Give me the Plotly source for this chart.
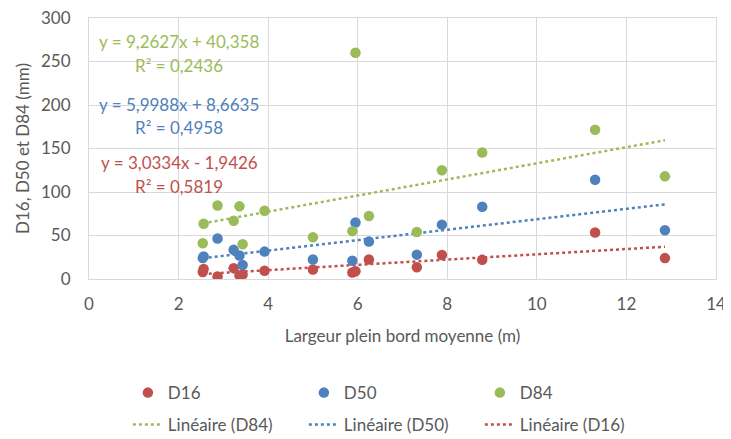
import plotly.graph_objects as go

# ---- data ----
largeur = [2.54, 2.56, 2.87, 3.23, 3.36, 3.43, 3.92, 5.00, 5.88, 5.95, 6.25, 7.32, 7.88, 8.78, 11.30, 12.86]
d16 = [8, 11.5, 3, 12.5, 4, 5, 9.5, 11, 7.5, 9, 22.5, 13.5, 27.5, 22, 53.5, 24]
d50 = [24, 26, 46.5, 33.5, 27, 16, 31.5, 22.5, 21, 65, 43, 28, 62.5, 83, 114, 56]
d84 = [41, 63.5, 84.5, 67, 83.5, 40, 78.5, 48, 55, 260, 72.5, 54, 125, 145.5, 171.5, 118]

series_names = ["D16", "D50", "D84"]
slopes = [3.0334, 5.9988, 9.2627]
intercepts = [-1.9426, 8.6635, 40.358]
r2_values = [0.5819, 0.4958, 0.2436]

x_ticks = [0, 2, 4, 6, 8, 10, 12, 14]
y_ticks = [0, 50, 100, 150, 200, 250, 300]

colors = ["#C0504D", "#4F81BD", "#9BBB59"]
FONT = "Lato, 'Open Sans', sans-serif"
FS = 17

values = [d16, d50, d84]

fig = go.Figure()

# trend lines (drawn first, under points); legend order D84, D50, D16
xmin, xmax = min(largeur), max(largeur)
for i in [2, 1, 0]:
    fig.add_trace(go.Scatter(
        x=[xmin, xmax],
        y=[slopes[i] * xmin + intercepts[i], slopes[i] * xmax + intercepts[i]],
        mode="lines",
        line=dict(color=colors[i], width=2.5, dash="dot"),
        name=f"Linéaire ({series_names[i]})",
        legend="legend2",
        hoverinfo="skip",
    ))

for i in range(3):
    fig.add_trace(go.Scatter(
        x=largeur, y=values[i], mode="markers",
        marker=dict(color=colors[i], size=10.5),
        name=series_names[i],
        legend="legend",
    ))


def fmt(v):
    return f"{v:.4f}".rstrip("0").rstrip(".").replace(".", ",") if abs(v) < 10 else f"{v:.3f}".replace(".", ",")


def eq_text(s, b):
    sign = "+" if b >= 0 else "-"
    return f"y = {fmt(s)}x {sign} {fmt(abs(b))}"


eq_pos = {2: (273, 245.5), 1: (200.3, 174), 0: (133.7, 106)}
for i in range(3):
    y1, y2 = eq_pos[i]
    fig.add_annotation(x=2.01, y=y1, xref="x", yref="y", text=eq_text(slopes[i], intercepts[i]),
                       showarrow=False, font=dict(family=FONT, size=FS, color=colors[i]))
    fig.add_annotation(x=2.01, y=y2, xref="x", yref="y",
                       text=f"R² = {r2_values[i]:.4f}".replace(".", ","),
                       showarrow=False, font=dict(family=FONT, size=FS, color=colors[i]))

axis_common = dict(
    showgrid=True, gridcolor="#D9D9D9", gridwidth=1,
    showline=True, linecolor="#D9D9D9", linewidth=1, mirror=True,
    zeroline=False, ticks="", automargin=False, ticklabeloverflow="allow",
    tickfont=dict(family=FONT, size=FS, color="#595959"),
)

legend_common = dict(orientation="h", x=0.062, xanchor="left", yanchor="middle",
                     entrywidth=131, entrywidthmode="pixels",
                     font=dict(family=FONT, size=FS, color="#595959"), bgcolor="rgba(0,0,0,0)")

# the page body has an 8px default margin, so the figure is sized to fit the window
fig.update_layout(
    width=723, height=431,
    margin=dict(l=81, r=15, t=10, b=160, autoexpand=False),
    paper_bgcolor="white", plot_bgcolor="white",
    font=dict(family=FONT, size=FS, color="#595959"),
    xaxis=dict(range=[0, 14], tickvals=x_ticks,
               title=dict(text="Largeur plein bord moyenne (m)", font=dict(family=FONT, size=FS, color="#595959"), standoff=16),
               ticklabelstandoff=10,
               **axis_common),
    yaxis=dict(range=[0, 300], tickvals=y_ticks,
               title=dict(text="D16, D50 et D84 (mm)", font=dict(family=FONT, size=FS, color="#595959"), standoff=7),
               ticklabelstandoff=14,
               **axis_common),
    legend=dict(y=-0.437, **legend_common),
    legend2=dict(y=-0.559, **legend_common),
    showlegend=True,
)

fig.write_html("out.html")
